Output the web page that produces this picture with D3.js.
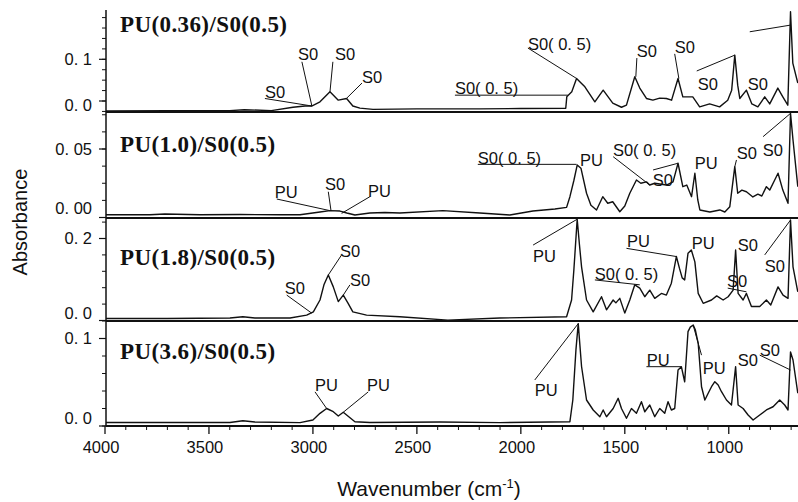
<!DOCTYPE html>
<html>
<head>
<meta charset="utf-8">
<script src="https://cdn.jsdelivr.net/npm/d3@7"></script>
<style>
  html, body { margin: 0; padding: 0; background: #fff; }
  svg { display: block; }
  .tick-label { font-family: "Liberation Sans", Arial, sans-serif; font-size: 16.5px; fill: #111; }
  .note { font-family: "Liberation Sans", Arial, sans-serif; font-size: 16.5px; fill: #111; }
  .title { font-family: "Liberation Serif", "Times New Roman", serif; font-weight: bold; font-size: 23px; letter-spacing: 0.4px; fill: #111; }
  .axis-title { font-family: "Liberation Sans", Arial, sans-serif; font-size: 20px; fill: #111; }
</style>
</head>
<body>
<svg id="chart" width="798" height="502"></svg>
<script>
// ---- FTIR spectra: wavenumber (cm-1) and absorbance for each blend ----
const wn1 = [4000, 3700, 3400, 3330, 3200, 3096, 3038, 3006, 2966, 2918, 2878, 2838, 2808, 2774, 2711, 2500, 2200, 2000, 1784,
  1779, 1755, 1732, 1708, 1692, 1644, 1604, 1558, 1516, 1492, 1452, 1428, 1396, 1365, 1332, 1300, 1275, 1244, 1221, 1173,
  1140, 1092, 1044, 1005, 986, 971, 957, 947, 915, 889, 860, 827, 803, 764, 740, 716, 703, 692, 668];
const abs1 = [-0.024, -0.023, -0.023, -0.021, -0.023, -0.015, -0.012, -0.012, -0.002, 0.022, 0.002, 0.006, -0.012, -0.017, -0.020, -0.019, -0.019, -0.018, -0.0175,
  0.010, 0.022, 0.054, 0.042, 0.034, -0.002, 0.026, -0.005, -0.015, -0.010, 0.058, 0.031, 0.006, 0.002, 0.007, 0.006, 0.002, 0.054, 0.010, 0.010,
  -0.014, -0.007, -0.014, 0.002, 0.026, 0.110, 0.038, 0.006, 0.026, -0.007, -0.014, 0.010, -0.007, 0.031, 0.010, -0.010, 0.214, 0.091, 0.043];

const wn2 = [4000, 3784, 3712, 3543, 3351, 3159, 3062, 2966, 2918, 2870, 2837, 2798, 2726, 2654, 2582, 2375, 2197, 2053, 1942, 1836, 1780,
  1764, 1745, 1729, 1711, 1684, 1663, 1636, 1606, 1582, 1558, 1524, 1500, 1476, 1444, 1423, 1396, 1380, 1356, 1300, 1268, 1244, 1221, 1202,
  1179, 1163, 1149, 1139, 1091, 1043, 1019, 995, 971, 957, 937, 915, 884, 860, 841, 819, 803, 779, 763, 740, 715, 703, 691, 668];
const abs2 = [0.002, 0.002, 0.0026, 0.002, 0.0022, 0.002, 0.002, 0.004, 0.005, 0.0047, 0.0033, 0.0018, 0.0033, 0.0036, 0.0033, 0.005, 0.0033, 0.0018, 0.0047, 0.0062, 0.0074,
  0.0152, 0.027, 0.0383, 0.036, 0.0177, 0.009, 0.0055, 0.0152, 0.0104, 0.0115, 0.0042, 0.0084, 0.0177, 0.0274, 0.025, 0.026, 0.0237, 0.025, 0.0237, 0.026, 0.0396, 0.0225, 0.0237,
  0.0152, 0.0323, 0.0128, 0.0055, 0.004, 0.0055, 0.004, 0.0079, 0.0371, 0.0177, 0.020, 0.0188, 0.015, 0.017, 0.0157, 0.0225, 0.020, 0.0274, 0.0323, 0.020, 0.0104, 0.076, 0.0566, 0.0225];

const wn3 = [4000, 3700, 3399, 3337, 3279, 3110, 3030, 2998, 2966, 2947, 2926, 2902, 2878, 2854, 2832, 2808, 2742, 2582, 2351, 2101, 1780,
  1756, 1745, 1729, 1718, 1708, 1684, 1652, 1612, 1588, 1556, 1543, 1524, 1500, 1476, 1452, 1428, 1404, 1380, 1356, 1324, 1300, 1276, 1252,
  1237, 1224, 1212, 1196, 1180, 1163, 1147, 1123, 1083, 1058, 1027, 1003, 979, 967, 955, 931, 915, 891, 851, 819, 798, 763, 739, 715, 703, 691, 668];
const abs3 = [0.005, 0.005, 0.006, 0.009, 0.006, 0.006, 0.013, 0.021, 0.050, 0.087, 0.111, 0.082, 0.046, 0.062, 0.043, 0.021, 0.013, 0.009, 0.001, 0.006, 0.009,
  0.050, 0.123, 0.247, 0.184, 0.131, 0.050, 0.021, 0.058, 0.026, 0.050, 0.043, 0.054, 0.018, 0.050, 0.087, 0.079, 0.058, 0.074, 0.054, 0.066, 0.062, 0.091, 0.156,
  0.127, 0.104, 0.099, 0.164, 0.172, 0.143, 0.066, 0.042, 0.050, 0.060, 0.050, 0.058, 0.074, 0.172, 0.066, 0.050, 0.066, 0.034, 0.034, 0.050, 0.038, 0.082, 0.062, 0.054, 0.245, 0.131, 0.070];

const wn4 = [4000, 3700, 3399, 3337, 3279, 3062, 3000, 2966, 2934, 2902, 2878, 2854, 2832, 2798, 2726, 2389, 2101, 1764,
  1750, 1735, 1724, 1708, 1684, 1652, 1620, 1604, 1588, 1556, 1532, 1516, 1492, 1468, 1444, 1420, 1404, 1380, 1356, 1332, 1308, 1292, 1276, 1260,
  1244, 1228, 1212, 1196, 1185, 1171, 1161, 1147, 1131, 1115, 1099, 1083, 1067, 1051, 1035, 1011, 987, 967, 955, 931, 907, 883, 851, 819, 787, 755, 731, 715, 703, 691, 668];
const abs4 = [0.004, 0.004, 0.004, 0.006, 0.0046, 0.0038, 0.0069, 0.0145, 0.020, 0.0163, 0.0114, 0.0157, 0.0114, 0.0049, 0.004, 0.0046, 0.0038, 0.0049,
  0.0297, 0.087, 0.117, 0.068, 0.0297, 0.0183, 0.0106, 0.0183, 0.0106, 0.020, 0.0317, 0.020, 0.0088, 0.020, 0.0145, 0.0278, 0.0163, 0.024, 0.0106, 0.020, 0.0145, 0.0278, 0.0183, 0.020,
  0.064, 0.0678, 0.0506, 0.1078, 0.113, 0.1154, 0.110, 0.0945, 0.0449, 0.0297, 0.0374, 0.0449, 0.0506, 0.0469, 0.0392, 0.0297, 0.024, 0.0678, 0.024, 0.020, 0.0126, 0.0069, 0.0126, 0.0183, 0.022, 0.0297, 0.024, 0.0183, 0.0846, 0.0754, 0.0374];

// ---- axis ticks ----
const xTicks = [4000, 3500, 3000, 2500, 2000, 1500, 1000];
const xTickLabels = ["4000", "3500", "3000", "2500", "2000", "1500", "1000"];
const xMinorStep = 100;

const yTicks1 = [0.0, 0.1], yLabels1 = ["0. 0", "0. 1"];
const yTicks2 = [0.00, 0.05], yLabels2 = ["0. 00", "0. 05"];
const yTicks3 = [0.0, 0.2], yLabels3 = ["0. 0", "0. 2"];
const yTicks4 = [0.0, 0.1], yLabels4 = ["0. 0", "0. 1"];

const titles = ["PU(0.36)/S0(0.5)", "PU(1.0)/S0(0.5)", "PU(1.8)/S0(0.5)", "PU(3.6)/S0(0.5)"];

// ---- band assignments: label anchor, leader start and leader end in (cm-1, absorbance) ----
const notes1 = [
  { text: "S0", at: [3231, 0.007], from: [3231, 0.006], to: [3005, -0.012] },
  { text: "S0", at: [3072, 0.098], from: [3053, 0.094], to: [3005, -0.012] },
  { text: "S0", at: [2894, 0.098], from: [2904, 0.094], to: [2918, 0.022] },
  { text: "S0", at: [2764, 0.043], from: [2764, 0.043], to: [2837, 0.007] },
  { text: "S0( 0. 5)", at: [1966, 0.122], from: [1966, 0.127], to: [1732, 0.054] },
  { text: "S0( 0. 5)", at: [2317, 0.017], from: [2317, 0.014], to: [1774, 0.014] },
  { text: "S0", at: [1442, 0.106], from: [1442, 0.103], to: [1447, 0.058] },
  { text: "S0", at: [1260, 0.115], from: [1260, 0.113], to: [1240, 0.054] },
  { text: "S0", at: [1149, 0.026], from: [1154, 0.072], to: [971, 0.110] },
  { text: "S0", at: [909, 0.026] },
  { text: "", from: [899, 0.166], to: [703, 0.182] }
];
const notes2 = [
  { text: "PU", at: [3183, 0.0142], from: [3174, 0.0135], to: [2918, 0.005] },
  { text: "S0", at: [2942, 0.020], from: [2926, 0.0188], to: [2913, 0.005] },
  { text: "PU", at: [2735, 0.015], from: [2726, 0.0152], to: [2862, 0.003] },
  { text: "S0( 0. 5)", at: [2207, 0.039], from: [2207, 0.0388], to: [1732, 0.0388] },
  { text: "PU", at: [1716, 0.0376] },
  { text: "S0( 0. 5)", at: [1557, 0.0449], from: [1556, 0.0444], to: [1380, 0.0237] },
  { text: "S0", at: [1365, 0.023], from: [1364, 0.0347], to: [1244, 0.0396] },
  { text: "PU", at: [1163, 0.0354] },
  { text: "S0", at: [961, 0.0427], from: [963, 0.042], to: [971, 0.0371] },
  { text: "S0", at: [836, 0.0449], from: [835, 0.059], to: [703, 0.076] }
];
const notes3 = [
  { text: "S0", at: [2870, 0.155], from: [2862, 0.160], to: [2926, 0.111] },
  { text: "S0", at: [2822, 0.084], from: [2822, 0.087], to: [2854, 0.062] },
  { text: "S0", at: [3135, 0.065], from: [3126, 0.062], to: [3006, 0.018] },
  { text: "PU", at: [1942, 0.143], from: [1941, 0.184], to: [1729, 0.247] },
  { text: "PU", at: [1490, 0.179], from: [1492, 0.176], to: [1252, 0.156] },
  { text: "S0( 0. 5)", at: [1644, 0.099], from: [1644, 0.099], to: [1428, 0.087] },
  { text: "PU", at: [1178, 0.174] },
  { text: "S0", at: [957, 0.170] },
  { text: "S0", at: [1009, 0.082], from: [1005, 0.079], to: [915, 0.070] },
  { text: "S0", at: [827, 0.118], from: [827, 0.160], to: [703, 0.245] }
];
const notes4 = [
  { text: "PU", at: [2990, 0.040], from: [2990, 0.039], to: [2934, 0.020] },
  { text: "PU", at: [2740, 0.040], from: [2734, 0.039], to: [2854, 0.0157] },
  { text: "PU", at: [1933, 0.034], from: [1933, 0.0526], to: [1724, 0.117] },
  { text: "PU", at: [1394, 0.0686], from: [1396, 0.0678], to: [1228, 0.0678] },
  { text: "PU", at: [1125, 0.059], from: [1131, 0.081], to: [1171, 0.115] },
  { text: "S0", at: [957, 0.0686] },
  { text: "S0", at: [851, 0.080], from: [851, 0.081], to: [703, 0.064] }
];

// ---- layout ----
const left = 106, right = 798;
const x = d3.scaleLinear().domain([4000, 667]).range([105, 798]);

const panels = [
  { wn: wn1, abs: abs1, ticks: yTicks1, labels: yLabels1, minor: 0.025, lo: -0.025, title: titles[0], notes: notes1,
    top: 10, bottom: 112, y: d3.scaleLinear().domain([0, 0.1]).range([101, 59.3]), titleY: 32, zeroShift: 4 },
  { wn: wn2, abs: abs2, ticks: yTicks2, labels: yLabels2, minor: 0.0125, lo: 0, title: titles[1], notes: notes2,
    top: 112, bottom: 218, y: d3.scaleLinear().domain([0, 0.05]).range([217.5, 149]), titleY: 152, zeroShift: -9 },
  { wn: wn3, abs: abs3, ticks: yTicks3, labels: yLabels3, minor: 0.04, lo: 0, title: titles[2], notes: notes3,
    top: 218, bottom: 321, y: d3.scaleLinear().domain([0, 0.2]).range([320.5, 238.5]), titleY: 265, zeroShift: -7 },
  { wn: wn4, abs: abs4, ticks: yTicks4, labels: yLabels4, minor: 0.02, lo: 0, title: titles[3], notes: notes4,
    top: 321, bottom: 426, y: d3.scaleLinear().domain([0, 0.1]).range([426, 338.5]), titleY: 359, zeroShift: -8 }
];

const svg = d3.select("#chart");
const defs = svg.append("defs");

panels.forEach((p, i) => {
  const g = svg.append("g");
  const y = p.y;

  // clip the trace to the panel frame
  defs.append("clipPath").attr("id", "clip" + i)
    .append("rect").attr("x", left).attr("y", p.top - 1).attr("width", right - left).attr("height", p.bottom - p.top + 1);

  // minor ticks on the absorbance axis
  const hi = y.invert(p.top);
  const minorTicks = d3.range(p.lo, hi + 1e-9, p.minor);
  g.selectAll("line.minor").data(minorTicks).join("line")
    .attr("x1", left - 4).attr("x2", left)
    .attr("y1", d => y(d)).attr("y2", d => y(d))
    .attr("stroke", "#111").attr("stroke-width", 1);

  // major ticks and labels
  g.selectAll("line.major").data(p.ticks).join("line")
    .attr("x1", left - 7).attr("x2", left)
    .attr("y1", d => y(d)).attr("y2", d => y(d))
    .attr("stroke", "#111").attr("stroke-width", 1.2);
  g.selectAll("text.tick-label").data(p.ticks).join("text")
    .attr("class", "tick-label")
    .attr("x", 92).attr("y", d => y(d) + (d === 0 ? p.zeroShift : 0))
    .attr("dy", "0.36em").attr("text-anchor", "end")
    .text((d, k) => p.labels[k]);

  // spectrum trace
  const pts = p.wn.map((w, k) => [w, p.abs[k]]);
  g.append("path").datum(pts)
    .attr("clip-path", `url(#clip${i})`)
    .attr("fill", "none").attr("stroke", "#111").attr("stroke-width", 1.4)
    .attr("stroke-linejoin", "round")
    .attr("d", d3.line().x(d => x(d[0])).y(d => y(d[1])));

  // panel bottom rule
  g.append("line").attr("x1", left).attr("x2", right)
    .attr("y1", p.bottom).attr("y2", p.bottom)
    .attr("stroke", "#111").attr("stroke-width", 1.8);

  // title
  g.append("text").attr("class", "title").attr("x", 120).attr("y", p.titleY).text(p.title);

  // band assignments
  p.notes.forEach(n => {
    if (n.from && n.to) {
      g.append("line")
        .attr("x1", x(n.from[0])).attr("y1", y(n.from[1]))
        .attr("x2", x(n.to[0])).attr("y2", y(n.to[1]))
        .attr("stroke", "#111").attr("stroke-width", 1);
    }
    if (n.text) {
      g.append("text").attr("class", "note")
        .attr("x", x(n.at[0])).attr("y", y(n.at[1]))
        .text(n.text);
    }
  });
});

// left axis line
svg.append("line").attr("x1", left).attr("x2", left).attr("y1", 10).attr("y2", 426)
  .attr("stroke", "#111").attr("stroke-width", 1.5);

// wavenumber axis ticks
const xMinor = d3.range(4000, 666, -xMinorStep);
svg.append("g").selectAll("line").data(xMinor).join("line")
  .attr("x1", d => x(d)).attr("x2", d => x(d))
  .attr("y1", 426).attr("y2", d => (d % 500 === 0 ? 434 : 430))
  .attr("stroke", "#111").attr("stroke-width", d => (d % 500 === 0 ? 1.3 : 1));
svg.append("g").selectAll("text").data(xTicks).join("text")
  .attr("class", "tick-label")
  .attr("x", d => x(d) - 4).attr("y", 453)
  .attr("text-anchor", "middle")
  .text((d, k) => xTickLabels[k]);

// axis titles
const xt = svg.append("text").attr("class", "axis-title")
  .attr("x", 429).attr("y", 496).attr("text-anchor", "middle").style("font-size", "21px");
xt.append("tspan").text("Wavenumber (cm");
xt.append("tspan").attr("dy", -8).attr("font-size", "13px").text("-1");
xt.append("tspan").attr("dy", 8).text(")");

svg.append("text").attr("class", "axis-title")
  .attr("transform", "translate(27,222) rotate(-90)")
  .attr("text-anchor", "middle")
  .text("Absorbance");
</script>
</body>
</html>
